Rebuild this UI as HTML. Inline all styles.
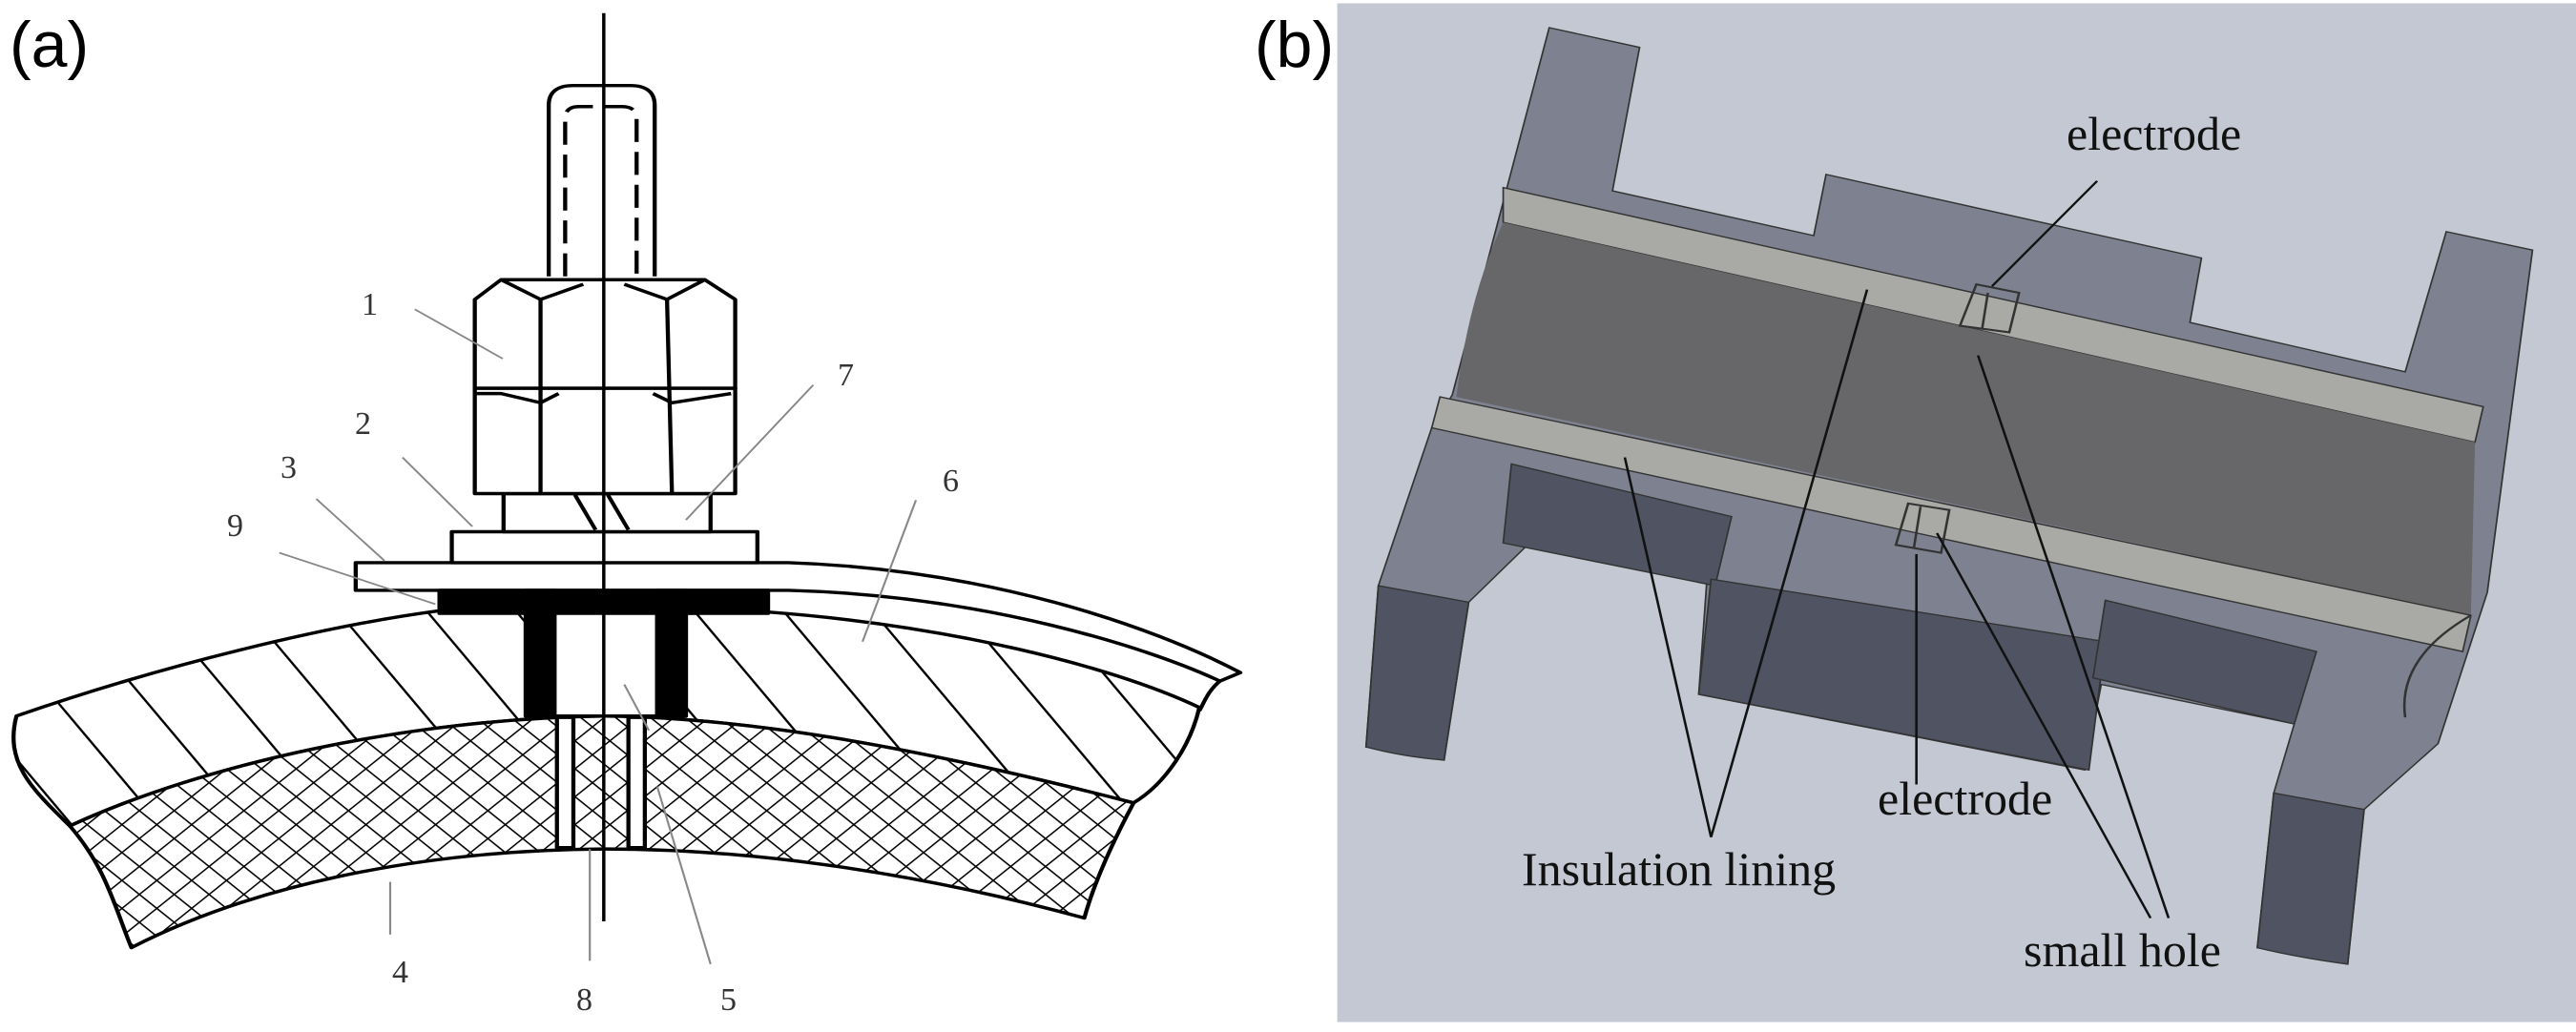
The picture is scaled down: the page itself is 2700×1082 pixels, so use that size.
<!DOCTYPE html>
<html><head><meta charset="utf-8"><style>html,body{margin:0;padding:0;background:#fff}svg{display:block}</style></head><body>
<svg width="2700" height="1082" viewBox="0 0 2700 1082" xmlns="http://www.w3.org/2000/svg">
<defs>
<pattern id="hat" patternUnits="userSpaceOnUse" width="90" height="90" patternTransform="rotate(-34)">
<rect width="90" height="90" fill="#fff"/><line x1="0" y1="0" x2="0" y2="90" stroke="#000" stroke-width="6"/></pattern>
<pattern id="xh" patternUnits="userSpaceOnUse" width="30" height="30" patternTransform="rotate(45)">
<rect width="30" height="30" fill="#fff"/><line x1="0" y1="0" x2="0" y2="30" stroke="#000" stroke-width="4"/><line x1="0" y1="0" x2="30" y2="0" stroke="#000" stroke-width="4"/></pattern>
</defs>
<g transform="scale(0.861,0.69)">
<g stroke="#000" stroke-width="5" stroke-linejoin="round">
<path d="M20,1088 C200,1010 400,950 535,928 L640,932 L640,1088 L835,1088 L835,932 L935,930 C1150,950 1350,1010 1460,1075 C1450,1130 1420,1190 1380,1220 C1100,1130 900,1090 735,1088 C500,1092 250,1160 85,1255 C40,1200 5,1160 20,1088 Z" fill="url(#hat)"/>
<path d="M85,1255 C250,1160 500,1092 735,1088 C900,1090 1100,1130 1380,1220 C1350,1290 1330,1350 1320,1395 C1100,1320 900,1290 735,1290 C500,1292 300,1350 160,1440 C140,1380 130,1320 85,1255 Z" fill="url(#xh)"/>
<rect x="678" y="1090" width="20" height="198" fill="#fff"/>
<rect x="765" y="1090" width="20" height="198" fill="#fff"/>
<rect x="675" y="895" width="125" height="193" fill="#fff"/>
<path d="M433,855 L960,855 C1200,865 1400,950 1510,1022 L1485,1035 C1400,985 1200,905 960,897 L433,897 Z" fill="#fff"/>
<path d="M1485,1035 C1470,1050 1465,1070 1460,1080" fill="none"/>
<rect x="535" y="897" width="400" height="35" fill="#000"/>
<rect x="640" y="897" width="35" height="191" fill="#000"/>
<rect x="800" y="897" width="35" height="191" fill="#000"/>
<rect x="550" y="808" width="372" height="47" fill="#fff"/>
<rect x="613" y="750" width="252" height="58" fill="#fff"/>
<path d="M700,752 L725,805 M740,752 L765,805" fill="none"/>
<path d="M668,420 L668,160 Q668,130 698,130 L767,130 Q797,130 797,160 L797,420" fill="#fff"/>
<path d="M688,420 L688,180 Q688,162 705,162 L757,162 Q775,162 775,180 L775,420" fill="none" stroke-dasharray="35,15"/>
<path d="M578,455 L610,425 L858,425 L895,455 L895,590 L578,590 Z" fill="#fff"/>
<path d="M578,590 L895,590 L895,750 L578,750 Z" fill="#fff"/>
<path d="M658,455 L658,750 M812,455 L818,750 M610,425 L658,455 L710,432 M760,432 L812,455 L858,425 M578,598 L610,598 L658,612 L680,598 M795,598 L818,612 L890,598" fill="none"/>
<line x1="735" y1="20" x2="735" y2="1400" stroke-width="4"/>
</g>
<g stroke="#888" stroke-width="2.5" fill="none">
<line x1="505" y1="470" x2="612" y2="545"/>
<line x1="490" y1="695" x2="575" y2="800"/>
<line x1="385" y1="758" x2="468" y2="852"/>
<line x1="340" y1="840" x2="530" y2="918"/>
<line x1="990" y1="585" x2="835" y2="790"/>
<line x1="1115" y1="760" x2="1050" y2="975"/>
<line x1="475" y1="1340" x2="475" y2="1420"/>
<line x1="718" y1="1290" x2="718" y2="1460"/>
<line x1="800" y1="1195" x2="865" y2="1465"/>
<line x1="760" y1="1040" x2="790" y2="1110"/>
</g>
</g>
<g transform="translate(1350,0) scale(0.861,0.69)">
<rect x="60" y="5" width="1510" height="1548" fill="#c3c8d2"/>
<path d="M318,42 L428,72 L395,290 L640,358 L655,265 L1112,392 L1098,490 L1360,565 L1410,352 L1515,380 L1460,900 L1400,1130 L1310,1230 L1290,1465 L1180,1440 L1200,1205 L1225,1100 L990,1040 L970,1170 L500,1055 L510,880 L290,830 L220,915 L190,1155 L95,1135 L110,890 L175,650 L200,600 Z" fill="#7e8290" stroke="#333" stroke-width="2"/>
<g fill="#4f5362" stroke="#333" stroke-width="2">
<path d="M110,890 L220,915 L190,1155 Q140,1150 95,1135 Z"/>
<path d="M272,705 L540,785 L520,890 L262,825 Z"/>
<path d="M515,880 L995,975 L975,1170 L500,1055 Z"/>
<path d="M995,912 L1252,990 L1225,1100 L980,1030 Z"/>
<path d="M1200,1205 L1310,1230 L1290,1465 Q1230,1455 1180,1440 Z"/>
</g>
<path d="M262,285 L1455,618 L1445,672 L262,338 Z" fill="#a9a9a6" stroke="#333" stroke-width="2"/>
<path d="M262,338 L1445,672 L1440,935 L205,603 Q220,450 262,338 Z" fill="#676769"/>
<path d="M185,603 L1440,935 L1430,990 L175,650 Z" fill="#a9a9a6" stroke="#333" stroke-width="2"/>
<path d="M1440,935 Q1350,1000 1360,1090" fill="none" stroke="#333" stroke-width="3"/>
<g fill="none" stroke="#333" stroke-width="3">
<path d="M838,432 L890,445 L878,505 L818,495 Z M852,445 L845,500"/>
<path d="M755,765 L805,775 L795,840 L740,828 Z M770,770 L762,832"/>
</g>
<g stroke="#111" stroke-width="3" fill="none">
<line x1="985" y1="275" x2="857" y2="435"/>
<line x1="765" y1="1192" x2="765" y2="842"/>
<line x1="515" y1="1272" x2="410" y2="695"/>
<line x1="515" y1="1272" x2="705" y2="440"/>
<line x1="1050" y1="1395" x2="790" y2="810"/>
<line x1="1072" y1="1395" x2="840" y2="540"/>
</g>
</g>
<text x="10" y="70" font-family="Liberation Sans, sans-serif" font-size="68">(a)</text>
<text x="1315" y="70" font-family="Liberation Sans, sans-serif" font-size="68">(b)</text>
<g font-family="Liberation Serif, serif" font-size="34" fill="#333">
<text x="379" y="330">1</text><text x="878" y="404">7</text><text x="372" y="455">2</text>
<text x="294" y="501">3</text><text x="238" y="562">9</text><text x="988" y="515">6</text>
<text x="411" y="1030">4</text><text x="604" y="1059">8</text><text x="755" y="1059">5</text>
</g>
<g font-family="Liberation Serif, serif" font-size="50" fill="#111">
<text x="2166" y="157">electrode</text>
<text x="1968" y="854">electrode</text>
<text x="1595" y="928">Insulation lining</text>
<text x="2121" y="1013">small hole</text>
</g>
</svg>
</body></html>
